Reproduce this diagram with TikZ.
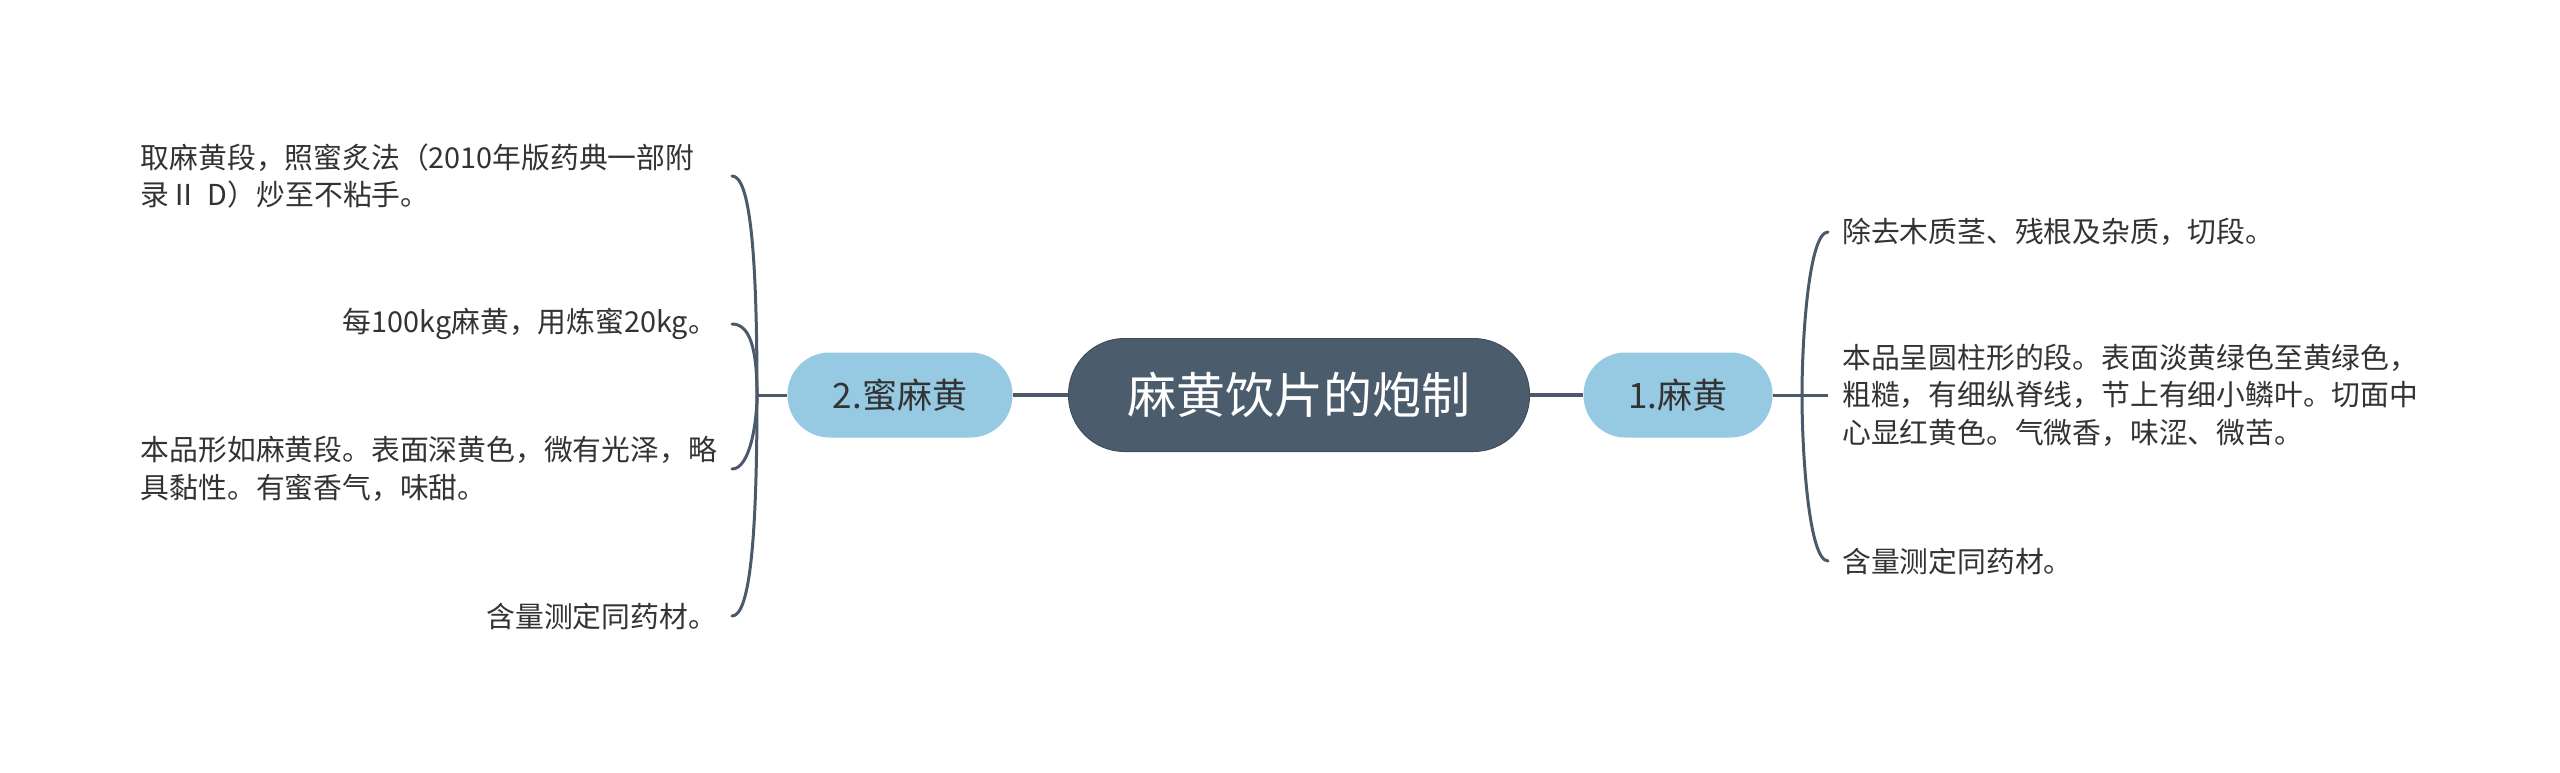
\documentclass[tikz,border=0pt]{standalone}
\usepackage{fontspec}
\setmainfont{Noto Sans CJK SC}
\definecolor{linec}{HTML}{4A5A6A}
\definecolor{rootc}{HTML}{4B5C6C}
\definecolor{rootb}{HTML}{3F4E5C}
\definecolor{subc}{HTML}{96CAE3}
\definecolor{txtc}{HTML}{333333}
\tikzset{
  rootbox/.style={fill=rootc, draw=rootb, line width=1pt, rounded corners=56pt,
    minimum width=461pt, minimum height=113pt, text=white, inner sep=0pt,
    font=\fontsize{49}{55}\selectfont},
  subbox/.style={fill=subc, draw=none, rounded corners=42pt,
    minimum height=85pt, text=txtc, inner sep=0pt,
    font=\fontsize{35}{40}\selectfont},
  leaf/.style={text=txtc, inner sep=0pt, align=left,
    font=\fontsize{28.8}{37.5}\selectfont},
  conn/.style={draw=linec, line width=3pt},
  mainconn/.style={draw=linec, line width=4pt},
  brk/.style={draw=linec, line width=3pt, line cap=round},
}
\begin{document}
\begin{tikzpicture}[x=1pt,y=-1pt]
\useasboundingbox (0,0) rectangle (2560,772);
\fill[white] (0,0) rectangle (2560,772);

% nodes
\node[rootbox] (root) at (1299,395) {麻黄饮片的炮制};
\node[subbox, minimum width=189pt] (n1) at (1678,395) {1.麻黄};
\node[subbox, minimum width=225pt] (n2) at (900,395) {2.蜜麻黄};

% right leaves
\node[leaf, anchor=west] (r1) at (1842,232) {除去木质茎、残根及杂质，切段。};
\node[leaf, anchor=west] (r2) at (1842,395) {本品呈圆柱形的段。表面淡黄绿色至黄绿色，\\粗糙，有细纵脊线，节上有细小鳞叶。切面中\\心显红黄色。气微香，味涩、微苦。};
\node[leaf, anchor=west] (r3) at (1842,561) {含量测定同药材。};

% left leaves
\node[leaf, anchor=east, text width=576pt] (l1) at (717,176) {取麻黄段，照蜜炙法（2010年版药典一部附\\录Ⅱ D）炒至不粘手。};
\node[leaf, anchor=east] (l2) at (717,324) {每100kg麻黄，用炼蜜20kg。};
\node[leaf, anchor=east, text width=576pt] (l3) at (717,469) {本品形如麻黄段。表面深黄色，微有光泽，略\\具黏性。有蜜香气，味甜。};
\node[leaf, anchor=east] (l4) at (717,616) {含量测定同药材。};

% junctions
\coordinate (jr) at (1802,395);
\coordinate (jl) at (757,395);

% main connectors
\draw[mainconn] (root.west) -- (n2.east);
\draw[mainconn] (root.east) -- (n1.west);

% right bracket
\draw[conn] (n1.east) -- ([xshift=-14pt]r2.west);
\draw[brk] (jr) .. controls (1802,337) and (1809,232) .. ([xshift=-14pt]r1.west);
\draw[brk] (jr) .. controls (1802,454) and (1809,561) .. ([xshift=-14pt]r3.west);

% left bracket
\draw[conn] (n2.west) -- (jl);
\draw[brk] (jl) .. controls (757,252) and (750,176) .. ([xshift=15pt]l1.east);
\draw[brk] (jl) .. controls (757,349) and (750,324) .. ([xshift=15pt]l2.east);
\draw[brk] (jl) .. controls (757,422) and (750,469) .. ([xshift=15pt]l3.east);
\draw[brk] (jl) .. controls (757,537) and (750,616) .. ([xshift=15pt]l4.east);
\end{tikzpicture}
\end{document}
